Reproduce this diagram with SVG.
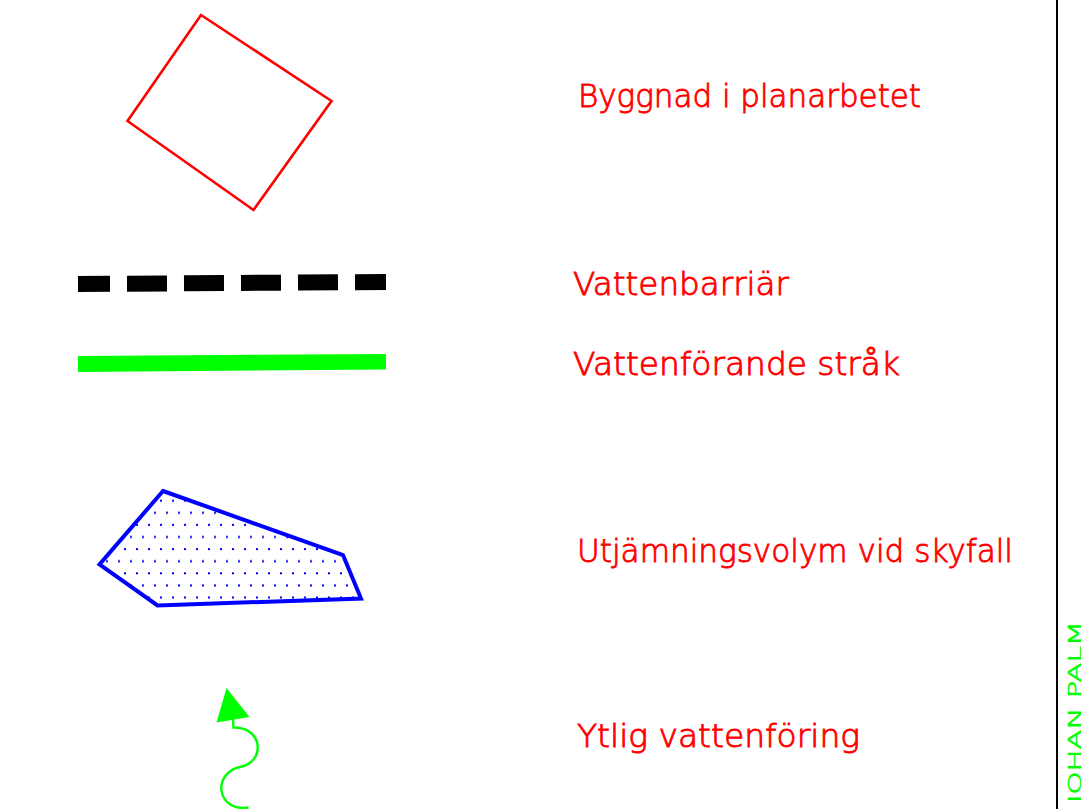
<svg xmlns="http://www.w3.org/2000/svg" width="1081" height="809" viewBox="0 0 1081 809">
  <defs>
    <pattern id="dots" patternUnits="userSpaceOnUse" x="4" y="15.7" width="12" height="24.2">
      <rect x="0" y="0" width="2" height="2" fill="#0000ff"/>
      <rect x="6" y="12.1" width="2" height="2" fill="#0000ff"/>
    </pattern>
  </defs>
  <style>
    .lbl { font-family: "DejaVu Sans", "Liberation Sans", sans-serif; font-size: 32.5px; font-weight: 200; fill: #ff0000; stroke: #ff0000; stroke-width: 0.9px; }
    .sig { font-family: "DejaVu Sans", "Liberation Sans", sans-serif; font-size: 17px; font-weight: 200; fill: #00ff00; stroke: #00ff00; stroke-width: 0.6px; }
  </style>
  <rect width="1081" height="809" fill="#ffffff"/>

  <!-- border line -->
  <line x1="1057" y1="0" x2="1057" y2="809" stroke="#000000" stroke-width="2"/>

  <!-- building -->
  <g id="building">
    <polygon points="201,15 331.5,101 253.5,210 127.5,121" fill="none" stroke="#ff0000" stroke-width="2.6"/>
    <text class="lbl" x="578" y="107" textLength="343" lengthAdjust="spacingAndGlyphs">Byggnad i planarbetet</text>
  </g>

  <!-- water barrier -->
  <g id="barrier">
    <path d="M78,284 L386,282" stroke="#000000" stroke-width="16" fill="none" stroke-dasharray="32 17 40 17 40 17 40 17 40 17 32"/>
    <text class="lbl" x="573" y="295" textLength="216" lengthAdjust="spacingAndGlyphs">Vattenbarriär</text>
  </g>

  <!-- water-carrying path -->
  <g id="flowpath">
    <polygon points="78,356 386,354 386,369.5 78,372" fill="#00ff00"/>
    <text class="lbl" x="573" y="375" textLength="327" lengthAdjust="spacingAndGlyphs">Vattenförande stråk</text>
  </g>

  <!-- retention volume -->
  <g id="retention">
    <polygon points="163,491 343,555 361,598.5 157.5,605.5 99.5,564.5" fill="url(#dots)" stroke="#0000ff" stroke-width="4" stroke-linejoin="miter"/>
    <text class="lbl" x="577" y="562" textLength="436" lengthAdjust="spacingAndGlyphs">Utjämningsvolym vid skyfall</text>
  </g>

  <!-- surface runoff -->
  <g id="runoff">
    <polygon points="226.5,688 249.5,717 216.5,722.5" fill="#00ff00"/>
    <path d="M233,719 L233.5,727.5 C263,727 266,762 240,767 C212,773 216,812 248.5,807.5" fill="none" stroke="#00ff00" stroke-width="2.4"/>
    <text class="lbl" x="577" y="747" textLength="283" lengthAdjust="spacingAndGlyphs">Ytlig vattenföring</text>
  </g>

  <text class="sig" transform="translate(1081,803) rotate(-90)" textLength="182" lengthAdjust="spacingAndGlyphs">JOHAN PALM</text>
</svg>
